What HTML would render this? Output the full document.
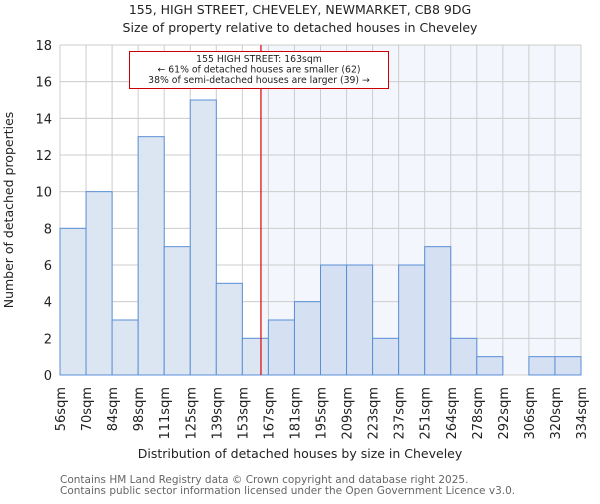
<!DOCTYPE html>
<html><head><meta charset="utf-8"><style>
body{margin:0;background:#fff;font-family:"DejaVu Sans","Liberation Sans",sans-serif;}
</style></head><body>
<svg id="c" width="600" height="500" xmlns="http://www.w3.org/2000/svg" font-family="DejaVu Sans, Liberation Sans, sans-serif">
<text x="300" y="14" text-anchor="middle" font-size="12.5" fill="#222">155, HIGH STREET, CHEVELEY, NEWMARKET, CB8 9DG</text>
<text x="300" y="32" text-anchor="middle" font-size="12.5" fill="#222">Size of property relative to detached houses in Cheveley</text>
<g id="plot"></g>
<text x="300" y="458" text-anchor="middle" font-size="12.5" fill="#222">Distribution of detached houses by size in Cheveley</text>
<text transform="translate(13,210) rotate(-90)" text-anchor="middle" font-size="12.5" fill="#222">Number of detached properties</text>
<text x="60" y="483" font-size="10.5" fill="#666">Contains HM Land Registry data © Crown copyright and database right 2025.</text>
<text x="60" y="494" font-size="10.5" fill="#666">Contains public sector information licensed under the Open Government Licence v3.0.</text>
</svg>
<script>
const categories=["56sqm","70sqm","84sqm","98sqm","111sqm","125sqm","139sqm","153sqm","167sqm","181sqm","195sqm","209sqm","223sqm","237sqm","251sqm","264sqm","278sqm","292sqm","306sqm","320sqm","334sqm"];
const counts=[8,10,3,13,7,15,5,2,3,4,6,6,2,6,7,2,1,0,1,1];
const yTicks=[0,2,4,6,8,10,12,14,16,18];
const marker=163;
const binStarts=[56,70,84,98,111,125,139,153,167,181,195,209,223,237,251,264,278,292,306,320,334];
const X0=60,X1=581,Y0=375,Y1=45,YMAX=18;
const ns="http://www.w3.org/2000/svg";
const g=document.getElementById('plot');
const bw=(X1-X0)/counts.length;
function xb(i){return X0+i*bw;}
function y(v){return Y0-(Y0-Y1)*v/YMAX;}
function xval(v){for(let i=0;i<binStarts.length-1;i++){if(v>=binStarts[i]&&v<=binStarts[i+1])return xb(i)+bw*(v-binStarts[i])/(binStarts[i+1]-binStarts[i]);}return X1;}
function mk(t,a){const e=document.createElementNS(ns,t);for(const k in a)e.setAttribute(k,a[k]);g.appendChild(e);return e;}
const mx=xval(marker);
let e=mk('rect',{x:mx,y:Y1,width:X1-mx,height:Y0-Y1,fill:'#f3f6fc'});


for(let i=0;i<=counts.length;i++){e=mk('line',{x1:xb(i),x2:xb(i),y1:Y1,y2:Y0,stroke:'#ccc','stroke-width':1});

}
yTicks.forEach(t=>{e=mk('line',{x1:X0,x2:X1,y1:y(t),y2:y(t),stroke:'#ccc','stroke-width':1});


e=mk('text',{x:X0-8,y:y(t)+5,'text-anchor':'end','font-size':'13',fill:'#222'});e.textContent=t;

});
counts.forEach((v,i)=>{if(v<=0)return;e=mk('rect',{x:xb(i),y:y(v),width:bw,height:Y0-y(v),fill:xb(i)>=mx?'#d5e0f2':'#dce6f3',stroke:'#5a8ed8','stroke-width':1});

});
categories.forEach((c,i)=>{e=mk('text',{transform:`translate(${xb(i)+5},387) rotate(-90)`,'text-anchor':'end','font-size':'13',fill:'#222'});e.textContent=c;

});
e=mk('line',{x1:mx,x2:mx,y1:Y1,y2:Y0,stroke:'#d00','stroke-width':1.2});


e=mk('rect',{x:129.5,y:51.5,width:259,height:37,fill:'#fff',stroke:'#c00','stroke-width':1});


["155 HIGH STREET: "+marker+"sqm","← 61% of detached houses are smaller (62)","38% of semi-detached houses are larger (39) →"].forEach((s,k)=>{e=mk('text',{x:259,y:62+k*10.5,'text-anchor':'middle','font-size':'9.3',fill:'#222'});e.textContent=s;

});
</script>
</body></html>
